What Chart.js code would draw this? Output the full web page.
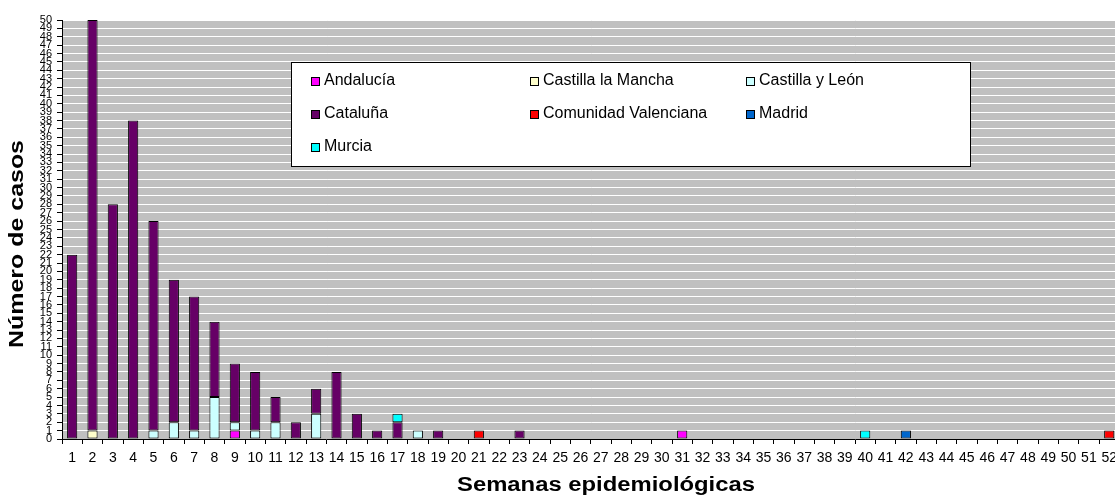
<!DOCTYPE html>
<html lang="es">
  <head>
    <meta charset="UTF-8" />
    <title>Casos por semana epidemiológica</title>
    <script src="https://cdn.jsdelivr.net/npm/chart.js"></script>
    <style>
      html, body { margin: 0; padding: 0; background: #fff; overflow: hidden; }
      #wrap { position: relative; width: 1123px; height: 498px; }
    </style>
  </head>
  <body>
    <div id="wrap"><canvas id="casesChart"></canvas></div>
    <script>
      const weeks = ["1","2","3","4","5","6","7","8","9","10","11","12","13","14","15","16","17","18","19","20",
        "21","22","23","24","25","26","27","28","29","30","31","32","33","34","35","36","37","38","39","40",
        "41","42","43","44","45","46","47","48","49","50","51","52"];

      // weeks 1..52
      const andalucia = [0, 0, 0, 0, 0, 0, 0, 0, 1, 0, 0, 0, 0, 0, 0, 0, 0, 0, 0, 0, 0, 0, 0, 0, 0, 0, 0, 0, 0, 0, 1, 0, 0, 0, 0, 0, 0, 0, 0, 0, 0, 0, 0, 0, 0, 0, 0, 0, 0, 0, 0, 0];
      const castillaMancha = [0, 1, 0, 0, 0, 0, 0, 0, 0, 0, 0, 0, 0, 0, 0, 0, 0, 0, 0, 0, 0, 0, 0, 0, 0, 0, 0, 0, 0, 0, 0, 0, 0, 0, 0, 0, 0, 0, 0, 0, 0, 0, 0, 0, 0, 0, 0, 0, 0, 0, 0, 0];
      const castillaLeon = [0, 0, 0, 0, 1, 2, 1, 5, 1, 1, 2, 0, 3, 0, 0, 0, 0, 1, 0, 0, 0, 0, 0, 0, 0, 0, 0, 0, 0, 0, 0, 0, 0, 0, 0, 0, 0, 0, 0, 0, 0, 0, 0, 0, 0, 0, 0, 0, 0, 0, 0, 0];
      const cataluna = [22, 49, 28, 38, 25, 17, 16, 9, 7, 7, 3, 2, 3, 8, 3, 1, 2, 0, 1, 0, 0, 0, 1, 0, 0, 0, 0, 0, 0, 0, 0, 0, 0, 0, 0, 0, 0, 0, 0, 0, 0, 0, 0, 0, 0, 0, 0, 0, 0, 0, 0, 0];
      const valenciana = [0, 0, 0, 0, 0, 0, 0, 0, 0, 0, 0, 0, 0, 0, 0, 0, 0, 0, 0, 0, 1, 0, 0, 0, 0, 0, 0, 0, 0, 0, 0, 0, 0, 0, 0, 0, 0, 0, 0, 0, 0, 0, 0, 0, 0, 0, 0, 0, 0, 0, 0, 1];
      const madrid = [0, 0, 0, 0, 0, 0, 0, 0, 0, 0, 0, 0, 0, 0, 0, 0, 0, 0, 0, 0, 0, 0, 0, 0, 0, 0, 0, 0, 0, 0, 0, 0, 0, 0, 0, 0, 0, 0, 0, 0, 0, 1, 0, 0, 0, 0, 0, 0, 0, 0, 0, 0];
      const murcia = [0, 0, 0, 0, 0, 0, 0, 0, 0, 0, 0, 0, 0, 0, 0, 0, 1, 0, 0, 0, 0, 0, 0, 0, 0, 0, 0, 0, 0, 0, 0, 0, 0, 0, 0, 0, 0, 0, 0, 1, 0, 0, 0, 0, 0, 0, 0, 0, 0, 0, 0, 0];

      const font = "'Liberation Sans', Arial, sans-serif";
      const narrow = "'Liberation Sans Narrow', 'Liberation Sans', Arial, sans-serif";

      function series(label, data, color) {
        return {
          label: label,
          data: data.map((v) => (v === 0 ? null : v)),
          backgroundColor: color,
          borderColor: "#000",
          borderWidth: 1,
          borderSkipped: false,
          barPercentage: 0.5,
          categoryPercentage: 1,
        };
      }

      // grey plot background
      const plotBg = {
        id: "plotBg",
        beforeDraw(chart) {
          const a = chart.chartArea;
          const ctx = chart.ctx;
          ctx.save();
          ctx.fillStyle = "#c0c0c0";
          ctx.fillRect(a.left, a.top, a.right - a.left, a.bottom - a.top);
          ctx.restore();
        },
      };

      // stretched text, like the old spreadsheet export
      function wideText(ctx, text, x, y, len, angle) {
        ctx.save();
        ctx.translate(x, y);
        ctx.rotate(angle);
        const w = ctx.measureText(text).width;
        ctx.scale(len / w, 1);
        ctx.textAlign = "center";
        ctx.textBaseline = "middle";
        ctx.fillText(text, 0, 0);
        ctx.restore();
      }

      const titles = {
        id: "titles",
        afterDraw(chart) {
          const ctx = chart.ctx;
          ctx.save();
          ctx.fillStyle = "#000";
          ctx.font = "bold 20px " + font;
          wideText(ctx, "Semanas epidemiológicas", 606, 485, 298, 0);
          wideText(ctx, "Número de casos", 17, 244, 208, -Math.PI / 2);
          ctx.restore();
        },
      };

      // legend box inside the plot, three columns
      const boxLegend = {
        id: "boxLegend",
        afterDraw(chart) {
          const ctx = chart.ctx;
          const x0 = 291, y0 = 62, w = 679, h = 104;
          const cols = [311, 530, 746];
          const rows = [81, 114, 147];
          ctx.save();
          ctx.fillStyle = "#fff";
          ctx.fillRect(x0, y0, w, h);
          ctx.strokeStyle = "#000";
          ctx.lineWidth = 1;
          ctx.strokeRect(x0 + 0.5, y0 + 0.5, w, h);
          ctx.font = "16px " + font;
          ctx.textBaseline = "middle";
          chart.data.datasets.forEach((ds, i) => {
            const x = cols[i % 3];
            const y = rows[Math.floor(i / 3)];
            ctx.fillStyle = ds.backgroundColor;
            ctx.fillRect(x, y - 4, 9, 9);
            ctx.strokeStyle = "#000";
            ctx.strokeRect(x + 0.5, y - 3.5, 8, 8);
            ctx.fillStyle = "#000";
            ctx.fillText(ds.label, x + 13, y);
          });
          ctx.restore();
        },
      };

      new Chart(document.getElementById("casesChart"), {
        type: "bar",
        data: {
          labels: weeks,
          datasets: [
            series("Andalucía", andalucia, "#ff00ff"),
            series("Castilla la Mancha", castillaMancha, "#ffffcc"),
            series("Castilla y León", castillaLeon, "#ccffff"),
            series("Cataluña", cataluna, "#660066"),
            series("Comunidad Valenciana", valenciana, "#ff0000"),
            series("Madrid", madrid, "#0066cc"),
            series("Murcia", murcia, "#00ffff"),
          ],
        },
        options: {
          responsive: true,
          maintainAspectRatio: false,
          animation: false,
          layout: { padding: { top: 20, right: 0, left: 0, bottom: 0 } },
          plugins: {
            legend: { display: false },
            tooltip: { enabled: false },
          },
          scales: {
            x: {
              stacked: true,
              afterFit(scale) { scale.height = 59; },
              grid: {
                offset: true,
                drawOnChartArea: false,
                tickColor: "#000",
                tickLength: 5,
              },
              border: { color: "#000" },
              ticks: {
                autoSkip: false,
                maxRotation: 0,
                color: "#000",
                font: { family: narrow, size: 14 },
                padding: 6,
              },
            },
            y: {
              stacked: true,
              min: 0,
              max: 50,
              afterFit(scale) { scale.width = 62; },
              grid: {
                color: "#fff",
                lineWidth: 1,
                tickColor: "#000",
                tickLength: 5,
              },
              border: { color: "#000" },
              ticks: {
                stepSize: 1,
                autoSkip: false,
                color: "#000",
                font: { family: font, size: 11 },
                padding: 5,
              },
            },
          },
        },
        plugins: [plotBg, titles, boxLegend],
      });
    </script>
  </body>
</html>
